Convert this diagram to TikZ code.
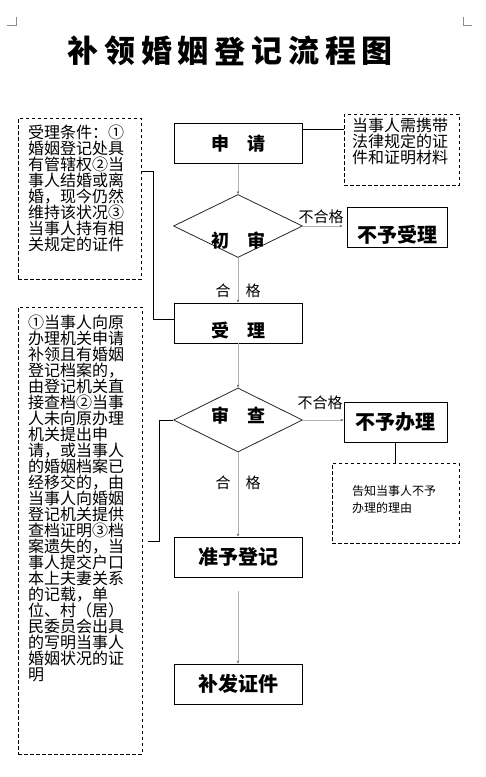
\documentclass[tikz,border=0pt]{standalone}
\usepackage{fontspec}
\setmainfont{Noto Sans CJK SC}
\usetikzlibrary{shapes.geometric,arrows.meta,calc}
\begin{document}
\begin{tikzpicture}[x=1pt,y=-1pt,
  box/.style={draw=black,line width=0.9pt,minimum width=128pt,minimum height=40pt,inner sep=0pt,font=\bfseries\fontsize{18}{18}\selectfont},
  wfont/.style={font=\bfseries\fontsize{20}{20}\selectfont},
  dia/.style={diamond,draw=black!85,line width=0.8pt,minimum width=129pt,minimum height=63pt,inner sep=0pt},
  dbox/.style={draw=black,line width=0.8pt,dash pattern=on 3.5pt off 2.5pt,inner sep=0pt,anchor=north west},
  note/.style={anchor=north west,inner sep=0pt,align=left,font=\fontsize{16}{16}\selectfont},
  flow/.style={draw=black!30,line width=0.7pt,-{Stealth[length=3pt,width=2.5pt,black!60]}},
  conn/.style={draw=black,line width=0.8pt},
  lab/.style={inner sep=0pt,font=\fontsize{15}{15}\selectfont},
  blab/.style={inner sep=0pt,font=\bfseries\fontsize{18}{18}\selectfont},
  ttl/.style={inner sep=0pt,font=\bfseries\fontsize{31}{31}\selectfont},
  crop/.style={draw=black!45,line width=0.7pt}
]
\useasboundingbox (0,0) rectangle (485,777);
% crop marks
\draw[crop] (7,25) -- (16,25) -- (16,17);
\draw[crop] (472,25) -- (463,25) -- (463,17);
% title
\foreach \c [count=\i from 0] in {补,领,婚,姻,登,记,流,程,图}
  \node[ttl] (t\i) at (83+36.8*\i,51) {\c};
% main boxes
\node[box] (sq) at (238,143.5) {申　请};
\node[dia] (cs) at (238,226) {};
\node[blab] (cst) at (238,241) {初　审};
\node[box] (sl) at (238,323) {};
\node[blab] (slt) at (238,330) {受　理};
\node[dia,minimum height=64pt] (sc) at (238,420) {};
\node[blab] (sct) at (238,416) {审　查};
\node[box,minimum width=100pt] (bs) at (397,227) {};
\node[wfont,inner sep=0pt] (bst) at (397,235) {不予受理};
\node[box,wfont,minimum width=103pt] (bb) at (395.5,422) {不予办理};
\node[box,wfont] (zy) at (238,557) {准予登记};
\node[box,wfont] (bf) at (238,684) {补发证件};
% dashed notes
\node[dbox,minimum width=123pt,minimum height=161pt] (d1) at (18,118) {};
\node[note] (d1t) at (28,125) {受理条件：①\\婚姻登记处具\\有管辖权②当\\事人结婚或离\\婚，现今仍然\\维持该状况③\\当事人持有相\\关规定的证件};
\node[dbox,minimum width=115pt,minimum height=71pt] (d2) at (344,114) {};
\node[note] (d2t) at (352,118) {当事人需携带\\法律规定的证\\件和证明材料};
\node[dbox,minimum width=124pt,minimum height=447pt] (d3) at (18,307) {};
\node[note] (d3t) at (28,315) {①当事人向原\\办理机关申请\\补领且有婚姻\\登记档案的，\\由登记机关直\\接查档②当事\\人未向原办理\\机关提出申\\请，或当事人\\的婚姻档案已\\经移交的，由\\当事人向婚姻\\登记机关提供\\查档证明③档\\案遗失的，当\\事人提交户口\\本上夫妻关系\\的记载，单\\位、村（居）\\民委员会出具\\的写明当事人\\婚姻状况的证\\明};
\node[dbox,minimum width=127pt,minimum height=80pt] (d4) at (332,463) {};
\node[anchor=north west,inner sep=0pt,align=left,font=\fontsize{12}{17}\selectfont] (d4t) at (352,485) {告知当事人不予\\办理的理由};
% black connectors
\coordinate (k1) at (153,171);
\draw[conn] (d1.east |- k1) -- (k1) |- ([yshift=4pt]sl.west);
\coordinate (k2) at (159,541);
\draw[conn] ([xshift=5pt]d3.east |- k2) -- (k2) |- (sc.west);
\coordinate (k3) at (304,129);
\draw[conn] (sq.east |- k3) -- (d2.west |- k3);
\draw[conn] (bb.south) -- (bb.south |- d4.north);
% flow arrows
\draw[flow] (sq.south) -- (cs.north);
\draw[flow] (cs.south) -- (sl.north);
\draw[flow] (sl.south) -- (sc.north);
\draw[flow] (sc.south) -- (zy.north);
\draw[flow] ([yshift=-14pt]zy.south) -- (bf.north);
\draw[flow,shorten >=4pt] (cs.east) -- (cs.east -| bs.west);
\draw[flow] (sc.east) -- (sc.east -| bb.west);
% labels
\node[lab] (h1) at (238,291) {合　格};
\node[lab] (h2) at (238,483) {合　格};
\node[lab] (n1) at (321,217) {不合格};
\node[lab] (n2) at (320,403) {不合格};
\end{tikzpicture}
\end{document}
